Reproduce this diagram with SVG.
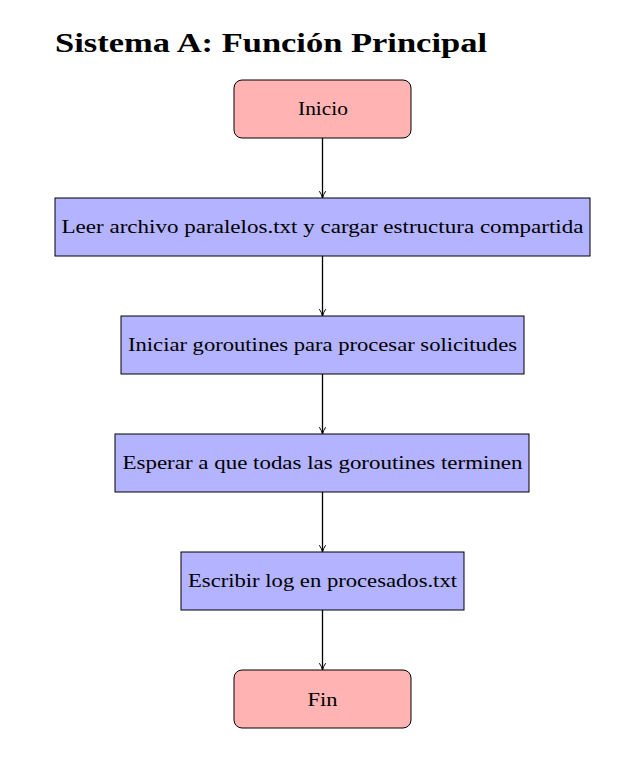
<svg xmlns="http://www.w3.org/2000/svg" width="639" height="777" viewBox="0 0 639 777">
<style>
.t{font-family:"Liberation Serif","DejaVu Serif",serif;font-size:19px;fill:#000;text-anchor:middle}
.title{font-family:"Liberation Serif","DejaVu Serif",serif;font-size:28px;font-weight:bold;fill:#000}
.term{fill:#FFB3B3;stroke:#000;stroke-width:1}
.proc{fill:#B3B3FF;stroke:#000;stroke-width:1}
.c{stroke:#000;stroke-width:1.3;fill:none;marker-end:url(#ah)}
</style>
<defs>
<marker id="ah" viewBox="0 0 10 10" refX="9" refY="5" markerWidth="7" markerHeight="7" markerUnits="userSpaceOnUse" orient="auto">
<path d="M0,0.5 Q5,4 10,5 Q5,6 0,9.5" fill="none" stroke="#000" stroke-width="1.4"/>
</marker>
</defs>
<rect width="639" height="777" fill="#fff"/>
<text class="title" x="55" y="52" textLength="432" lengthAdjust="spacingAndGlyphs">Sistema A: Función Principal</text>
<g id="connectors">
<line class="c" x1="322.5" y1="138" x2="322.5" y2="197.5"/>
<line class="c" x1="322.5" y1="256" x2="322.5" y2="315.5"/>
<line class="c" x1="322.5" y1="374" x2="322.5" y2="433.5"/>
<line class="c" x1="322.5" y1="492" x2="322.5" y2="551.5"/>
<line class="c" x1="322.5" y1="610" x2="322.5" y2="669.5"/>
</g>
<g id="inicio">
<rect class="term" x="234" y="80" width="177" height="58" rx="8"/>
<text class="t" x="323" y="115" textLength="50" lengthAdjust="spacingAndGlyphs">Inicio</text>
</g>
<g id="leer">
<rect class="proc" x="55" y="198" width="535" height="58"/>
<text class="t" x="322.5" y="233" textLength="522" lengthAdjust="spacingAndGlyphs">Leer archivo paralelos.txt y cargar estructura compartida</text>
</g>
<g id="iniciar">
<rect class="proc" x="121" y="316" width="403" height="58"/>
<text class="t" x="322.5" y="351" textLength="389" lengthAdjust="spacingAndGlyphs">Iniciar goroutines para procesar solicitudes</text>
</g>
<g id="esperar">
<rect class="proc" x="115" y="434" width="414" height="58"/>
<text class="t" x="322.5" y="469" textLength="400" lengthAdjust="spacingAndGlyphs">Esperar a que todas las goroutines terminen</text>
</g>
<g id="escribir">
<rect class="proc" x="181" y="552" width="283" height="58"/>
<text class="t" x="322.5" y="587" textLength="269" lengthAdjust="spacingAndGlyphs">Escribir log en procesados.txt</text>
</g>
<g id="fin">
<rect class="term" x="234" y="670" width="177" height="58" rx="8"/>
<text class="t" x="322.5" y="706" textLength="30" lengthAdjust="spacingAndGlyphs">Fin</text>
</g>
</svg>
